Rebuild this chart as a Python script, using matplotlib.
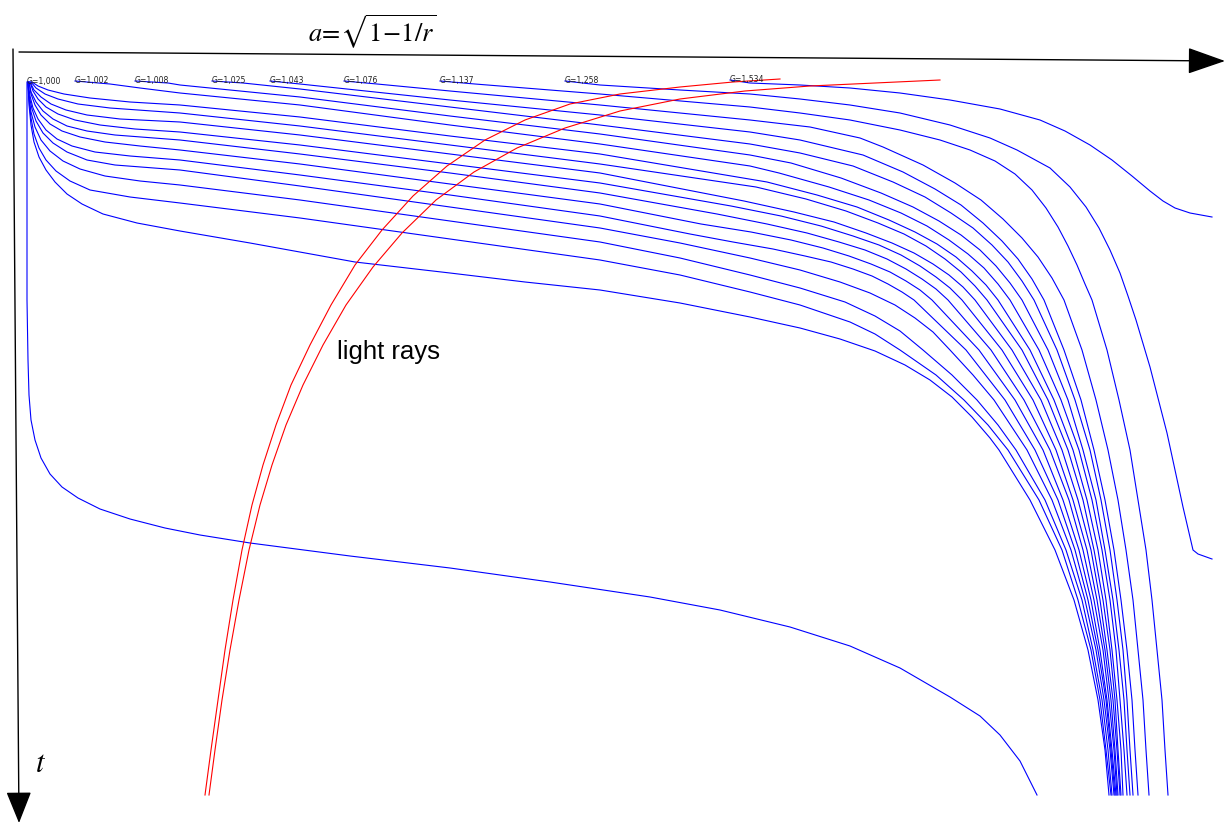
import matplotlib
matplotlib.use("Agg")
import matplotlib.pyplot as plt

# world lines as (a, t) in drawing units, t grows downward
g_1534 = [(730, 80), (750, 83), (800, 85), (850, 88), (900, 93), (950, 100), (1000, 109), (1040, 120),
          (1065, 131), (1090, 145), (1112, 160), (1132, 176), (1150, 191), (1163, 201), (1175, 208),
          (1190, 213), (1212, 217)]
g_1258 = [(565, 81), (600, 85), (680, 90), (750, 94), (800, 99), (850, 105), (900, 113), (950, 125),
          (990, 138), (1017, 150), (1050, 168), (1070, 187), (1086, 207), (1099, 228), (1110, 250),
          (1120, 273), (1128, 296), (1136, 320), (1150, 367), (1167, 433), (1183, 507), (1193, 550),
          (1198, 554), (1212, 559)]
g_1137 = [(440, 81), (475, 84), (600, 94), (750, 107), (800, 113), (850, 120), (900, 130), (940, 140),
          (970, 150), (995, 161), (1015, 174), (1032, 190), (1046, 208), (1058, 227), (1068, 246),
          (1077, 265), (1085, 284), (1092, 300), (1107, 350), (1119, 400), (1130, 450), (1138, 500),
          (1146, 550), (1152, 600), (1157, 650), (1162, 700), (1165, 750), (1168, 795)]
g_1076 = [(344, 81), (377, 84), (450, 91), (600, 105), (750, 120), (810, 127), (860, 138), (883, 147),
          (923, 165), (955, 183), (981, 200), (1003, 219), (1022, 238), (1038, 257), (1052, 278),
          (1064, 300), (1082, 350), (1096, 400), (1108, 450), (1118, 500), (1126, 550), (1133, 600),
          (1138, 650), (1143, 700), (1146, 750), (1149, 795)]
g_1043 = [(270, 81), (300, 84), (450, 100), (600, 115), (750, 132), (800, 140), (863, 155), (903, 172),
          (935, 189), (961, 205), (983, 223), (1002, 241), (1018, 259), (1032, 279), (1044, 300),
          (1064, 350), (1081, 400), (1094, 450), (1105, 500), (1114, 550), (1121, 600), (1127, 650),
          (1132, 700), (1135, 750), (1138, 795)]
g_1025 = [(212, 81), (243, 83), (300, 89), (450, 107), (600, 125), (750, 144), (800, 153), (853, 166),
          (893, 182), (925, 197), (951, 213), (973, 228), (992, 245), (1008, 262), (1022, 281),
          (1034, 300), (1057, 350), (1075, 400), (1090, 450), (1101, 500), (1110, 550), (1117, 600),
          (1123, 650), (1127, 700), (1130, 750), (1133, 795)]
g_1008 = [(135, 81), (168, 83), (180, 85), (300, 97), (450, 116), (600, 134), (750, 155), (791, 163),
          (841, 178), (881, 193), (913, 207), (939, 221), (961, 235), (980, 250), (996, 266),
          (1010, 283), (1022, 300), (1048, 350), (1068, 400), (1083, 450), (1096, 500), (1105, 550),
          (1113, 600), (1119, 650), (1124, 700), (1127, 750), (1130, 795)]
g_1002 = [(75, 81), (110, 84), (140, 88), (180, 93), (300, 105), (450, 125), (600, 144), (750, 166),
          (779, 173), (829, 187), (869, 200), (901, 213), (927, 226), (949, 240), (968, 254),
          (984, 268), (998, 284), (1010, 300), (1039, 350), (1061, 400), (1079, 450), (1092, 500),
          (1102, 550), (1110, 600), (1116, 650), (1120, 700), (1124, 750), (1127, 795)]

# unlabelled lines between G=1,000 and G=1,002
fan_01 = [(32, 82), (38, 86), (48, 90), (64, 94), (90, 98), (130, 102), (180, 105), (300, 117),
          (450, 136), (600, 154), (767, 182), (817, 195), (857, 207), (889, 220), (915, 232),
          (937, 244), (956, 257), (972, 271), (986, 285), (998, 300), (1030, 350), (1054, 400),
          (1073, 450), (1087, 500), (1098, 550), (1106, 600), (1112, 650), (1117, 700), (1121, 750),
          (1123, 795)]
fan_02 = [(31, 82), (36, 88), (45, 94), (58, 99), (78, 104), (110, 108), (180, 113), (300, 126),
          (450, 145), (600, 164), (756, 187), (806, 199), (846, 211), (878, 223), (904, 234),
          (926, 246), (945, 259), (961, 272), (975, 286), (987, 300), (1022, 350), (1048, 400),
          (1068, 450), (1083, 500), (1094, 550), (1103, 600), (1110, 650), (1115, 700), (1118, 750),
          (1121, 795)]
fan_03 = [(30, 82), (34, 90), (41, 97), (51, 104), (66, 110), (87, 115), (120, 119), (180, 122),
          (300, 135), (450, 154), (600, 173), (744, 201), (794, 212), (834, 222), (866, 233),
          (892, 243), (914, 253), (933, 264), (949, 275), (963, 287), (975, 300), (1012, 350),
          (1041, 400), (1062, 450), (1078, 500), (1091, 550), (1100, 600), (1107, 650), (1113, 700),
          (1117, 750), (1120, 795)]
fan_04 = [(30, 82), (33, 91), (38, 99), (46, 107), (58, 114), (75, 120), (100, 125), (135, 129),
          (180, 132), (300, 145), (450, 164), (600, 183), (731, 206), (781, 216), (821, 226),
          (853, 236), (879, 245), (901, 255), (920, 266), (936, 277), (950, 288), (962, 300),
          (1002, 350), (1033, 400), (1056, 450), (1073, 500), (1087, 550), (1097, 600), (1105, 650),
          (1111, 700), (1115, 750), (1118, 795)]
fan_05 = [(29, 82), (31, 92), (36, 102), (43, 111), (53, 119), (67, 126), (87, 131), (115, 135),
          (180, 140), (300, 154), (450, 173), (600, 193), (717, 214), (767, 224), (807, 233),
          (839, 242), (865, 250), (887, 259), (906, 269), (922, 279), (936, 289), (948, 300),
          (991, 350), (1024, 400), (1050, 450), (1069, 500), (1083, 550), (1094, 600), (1103, 650),
          (1109, 700), (1114, 750), (1117, 795)]
fan_06 = [(29, 82), (31, 94), (35, 105), (41, 115), (50, 124), (62, 131), (80, 137), (105, 142),
          (140, 146), (180, 150), (300, 164), (450, 184), (600, 204), (701, 224), (751, 232),
          (791, 240), (823, 248), (849, 256), (871, 264), (890, 272), (906, 281), (920, 290),
          (932, 300), (979, 350), (1015, 400), (1043, 450), (1063, 500), (1079, 550), (1091, 600),
          (1100, 650), (1107, 700), (1112, 750), (1116, 795)]
fan_07 = [(28, 82), (30, 96), (33, 108), (38, 119), (46, 130), (57, 139), (72, 146), (95, 152),
          (130, 156), (180, 160), (300, 175), (450, 195), (600, 216), (690, 234), (733, 242),
          (773, 249), (805, 256), (831, 262), (853, 269), (872, 276), (888, 284), (902, 292),
          (914, 300), (966, 350), (1005, 400), (1035, 450), (1058, 500), (1075, 550), (1088, 600),
          (1098, 650), (1106, 700), (1111, 750), (1115, 795)]
fan_08 = [(28, 82), (29, 95), (32, 109), (36, 121), (43, 133), (53, 143), (67, 152), (87, 160),
          (115, 165), (180, 170), (300, 186), (450, 207), (600, 228), (680, 243), (750, 258),
          (800, 270), (840, 282), (870, 293), (895, 305), (915, 318), (933, 332), (950, 350),
          (973, 375), (994, 400), (1027, 450), (1052, 500), (1071, 550), (1085, 600), (1096, 650),
          (1104, 700), (1110, 750), (1114, 795)]
fan_09 = [(28, 82), (29, 97), (31, 112), (35, 127), (41, 140), (50, 151), (63, 161), (80, 169),
          (105, 176), (140, 181), (180, 185), (300, 200), (450, 221), (600, 242), (680, 258),
          (750, 275), (800, 288), (845, 302), (875, 316), (900, 331), (923, 350), (952, 375),
          (977, 400), (998, 425), (1016, 450), (1045, 500), (1066, 550), (1082, 600), (1093, 650),
          (1102, 700), (1108, 750), (1112, 795)]
fan_10 = [(28, 82), (29, 100), (31, 118), (34, 134), (39, 148), (46, 160), (56, 171), (70, 181),
          (90, 190), (130, 197), (180, 203), (300, 218), (450, 239), (600, 260), (680, 275),
          (750, 292), (800, 305), (850, 322), (875, 334), (900, 350), (936, 375), (964, 400),
          (988, 425), (1008, 450), (1039, 500), (1062, 550), (1078, 600), (1091, 650), (1100, 700),
          (1106, 750), (1111, 795)]
fan_11 = [(28, 83), (29, 105), (31, 125), (34, 142), (39, 157), (46, 170), (55, 182), (67, 194),
          (82, 204), (103, 214), (137, 223), (180, 231), (250, 243), (355, 262), (450, 273),
          (525, 282), (600, 290), (680, 303), (750, 317), (800, 328), (840, 339), (875, 351),
          (905, 365), (930, 380), (952, 397), (972, 417), (990, 438), (999, 450), (1030, 500),
          (1055, 550), (1074, 600), (1088, 650), (1098, 700), (1105, 750), (1109, 795)]

g_1000 = [(27, 82), (27, 200), (27, 300), (28, 360), (29, 395), (31, 420), (35, 440), (41, 458),
          (50, 474), (62, 487), (78, 498), (100, 509), (130, 519), (165, 528), (200, 535), (250, 543),
          (350, 556), (450, 568), (550, 582), (650, 597), (720, 610), (790, 627), (850, 646),
          (900, 668), (950, 697), (980, 716), (1000, 735), (1020, 761), (1037, 795)]

# light rays
ray_1 = [(205, 795), (211, 750), (218, 700), (225, 650), (233, 600), (242, 550), (252, 505),
         (263, 465), (276, 425), (291, 385), (310, 345), (331, 305), (355, 265), (382, 230),
         (413, 196), (447, 166), (485, 140), (525, 120), (570, 104), (620, 94), (680, 87),
         (733, 82), (780, 79)]
ray_2 = [(209, 795), (215, 750), (222, 700), (230, 650), (239, 600), (249, 550), (260, 505),
         (272, 465), (286, 425), (303, 385), (323, 345), (346, 305), (373, 267), (402, 233),
         (436, 200), (474, 172), (517, 148), (565, 128), (620, 111), (680, 99), (745, 91),
         (810, 86), (875, 83), (940, 80)]

labelled = [g_1000, g_1002, g_1008, g_1025, g_1043, g_1076, g_1137, g_1258, g_1534]
g_values = ["1,000", "1,002", "1,008", "1,025", "1,043", "1,076", "1,137", "1,258", "1,534"]
fans = [fan_01, fan_02, fan_03, fan_04, fan_05, fan_06, fan_07, fan_08, fan_09, fan_10, fan_11]
rays = [ray_1, ray_2]

plt.rcParams["mathtext.fontset"] = "stix"

fig = plt.figure(figsize=(12.27, 8.24), dpi=100)
ax = fig.add_axes([0, 0, 1, 1])
ax.set_xlim(0, 1227)
ax.set_ylim(824, 0)
ax.axis("off")

for line in labelled + fans:
    xs, ys = zip(*line)
    ax.plot(xs, ys, color="#0000ff", lw=0.8)

for line in rays:
    xs, ys = zip(*line)
    ax.plot(xs, ys, color="#ff0000", lw=0.8)

for line, g in zip(labelled, g_values):
    ax.text(line[0][0], line[0][1] + 2, "G=" + g, fontsize=5.6, color="#222222",
            ha="left", va="baseline", family="DejaVu Sans")

# axes arrows
ax.annotate("", xy=(1225, 61), xytext=(19, 52), annotation_clip=False,
            arrowprops=dict(arrowstyle="-|>,head_length=1.2,head_width=0.42", mutation_scale=20,
                            color="black", lw=1.0, shrinkA=0, shrinkB=0))
ax.annotate("", xy=(19, 823), xytext=(13, 49), annotation_clip=False,
            arrowprops=dict(arrowstyle="-|>,head_length=1.0,head_width=0.4", mutation_scale=20,
                            color="black", lw=1.0, shrinkA=0, shrinkB=0))

ax.text(308, 32, r"$a\!=\!\sqrt{1\!-\!1/r}$", fontsize=19, ha="left", va="center")
ax.text(35, 763, r"$t$", fontsize=22, ha="left", va="center")
ax.text(337, 359, "light rays", fontsize=18.5, family="Liberation Sans", ha="left", va="baseline")

fig.savefig("out.png", dpi=100)
